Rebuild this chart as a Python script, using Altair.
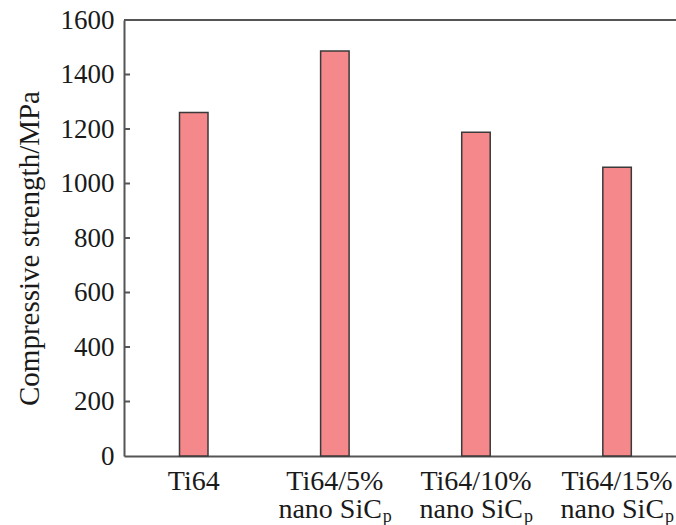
import altair as alt
import pandas as pd

# ---- data ----
categories = ["Ti64", "Ti64/5% nano SiCp", "Ti64/10% nano SiCp", "Ti64/15% nano SiCp"]
strength = [1261, 1486, 1188, 1060]
label_line1 = ["Ti64", "Ti64/5%", "Ti64/10%", "Ti64/15%"]
label_line2 = ["", "nano SiC", "nano SiC", "nano SiC"]
label_sub = ["", "p", "p", "p"]
y_tick_values = [0, 200, 400, 600, 800, 1000, 1200, 1400, 1600]
inner_ticks = [200, 400, 600, 800, 1000, 1200, 1400]

df = pd.DataFrame({
    "cat": categories,
    "val": strength,
    "l1": label_line1,
    "l2": label_line2,
    "sub": label_sub,
})
ticks_df = pd.DataFrame({"val": inner_ticks})

FONT = "Liberation Serif"
AXIS_COLOR = "#555555"
BAR_FILL = "#F4888A"
BAR_STROKE = "#3a3a3a"

W, H = 552, 436

xscale = alt.Scale(domain=categories, paddingInner=0.798, paddingOuter=0.355, align=0.554)
yscale = alt.Scale(domain=[0, 1600], nice=False, zero=True)

x_axis = alt.Axis(labels=False, ticks=False, title=None,
                  domainColor=AXIS_COLOR, domainWidth=2)
y_axis = alt.Axis(values=y_tick_values, ticks=False, grid=False, format="d",
                  labelPadding=10, labelFont=FONT, labelFontSize=27,
                  labelColor="#1a1a1a", domainColor=AXIS_COLOR, domainWidth=2,
                  title="Compressive strength/MPa", titleFont=FONT,
                  titleFontSize=29, titleFontWeight="normal", titleColor="#1a1a1a",
                  titleAngle=-90, titleAlign="center", titleBaseline="middle",
                  titleX=-95, titleY=228)

X = alt.X("cat:N", scale=xscale, sort=categories, axis=x_axis)
Y = alt.Y("val:Q", scale=yscale, axis=y_axis)

base = alt.Chart(df)

bars = base.mark_bar(fill=BAR_FILL, stroke=BAR_STROKE, strokeWidth=1.5).encode(x=X, y=Y)

tick_rules = alt.Chart(ticks_df).mark_rule(color=AXIS_COLOR, strokeWidth=2).encode(
    y=Y,
    x=alt.value(0),
    x2=alt.value(6),
)

top_rule = alt.Chart(ticks_df).mark_rule(color=AXIS_COLOR, strokeWidth=2).encode(
    y=alt.value(0),
)

line1 = base.mark_text(font=FONT, fontSize=28, color="#1a1a1a",
                       align="center", baseline="alphabetic").encode(
    x=X, y=alt.value(470), text="l1:N",
)

line2 = base.mark_text(font=FONT, fontSize=28, color="#1a1a1a",
                       align="right", baseline="alphabetic", dx=47).encode(
    x=X, y=alt.value(498), text="l2:N",
)

sub = base.mark_text(font=FONT, fontSize=18, color="#1a1a1a",
                     align="left", baseline="alphabetic", dx=48).encode(
    x=X, y=alt.value(502), text="sub:N",
)

chart = alt.layer(bars, tick_rules, top_rule, line1, line2, sub).properties(
    width=W,
    height=H,
    padding={"left": 124, "top": 20, "right": 0, "bottom": 69},
    autosize=alt.AutoSizeParams(type="none"),
    background="white",
).configure_view(stroke=None)

chart.save("out.html", embed_options={"renderer": "svg", "actions": False})
